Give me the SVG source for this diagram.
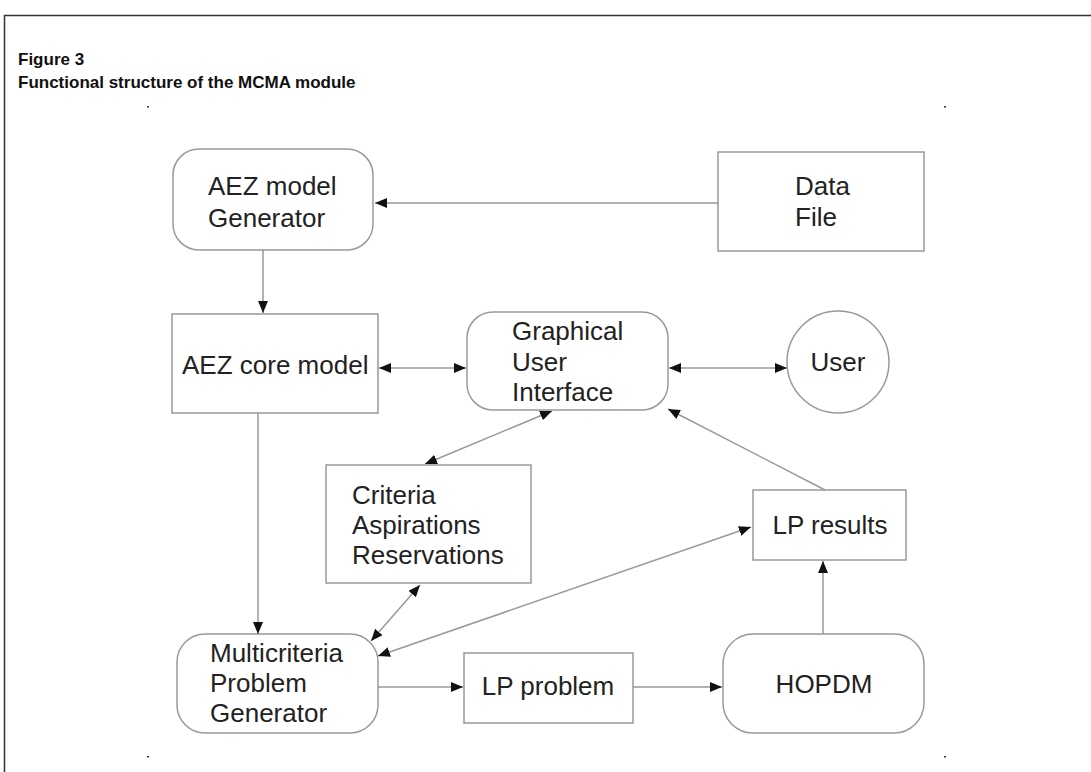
<svg xmlns="http://www.w3.org/2000/svg" width="1091" height="772" viewBox="0 0 1091 772">
<style>
.frame{fill:none;stroke:#333;stroke-width:1.5}
.title{font-family:"Liberation Sans",Arial,sans-serif;font-weight:bold;font-size:17px;fill:#111}
.box{fill:#fff;stroke:#999;stroke-width:1.5}
.lbl{font-family:"Liberation Sans",Arial,sans-serif;font-size:26px;fill:#222}
.c{text-anchor:middle}
.conn line{stroke:#999;stroke-width:1.5;fill:none}
.dot{fill:#333}
</style>
<defs>
<marker id="ah" viewBox="0 0 12 10" refX="12" refY="5" markerWidth="12" markerHeight="10" markerUnits="userSpaceOnUse" orient="auto-start-reverse">
<path d="M0,0 L12,5 L0,10 z" fill="#111"/>
</marker>
</defs>
<rect width="1091" height="772" fill="#fff"/>
<path class="frame" d="M4.5,772 V15.5 H1091"/>
<text class="title" x="18" y="65">Figure 3</text>
<text class="title" x="18" y="88">Functional structure of the MCMA module</text>
<rect class="dot" x="147" y="106" width="2" height="1.5"/>
<rect class="dot" x="944" y="106" width="2" height="1.5"/>
<rect class="dot" x="147" y="756" width="2" height="1.5"/>
<rect class="dot" x="944" y="756" width="2" height="1.5"/>

<g id="aez-gen">
<rect class="box" x="173" y="149" width="200" height="101" rx="26"/>
<text class="lbl" x="208" y="195">AEZ model</text>
<text class="lbl" x="208" y="227">Generator</text>
</g>
<g id="data-file">
<rect class="box" x="718" y="152" width="206" height="99"/>
<text class="lbl" x="795" y="195">Data</text>
<text class="lbl" x="795" y="226">File</text>
</g>
<g id="aez-core">
<rect class="box" x="172" y="314" width="206" height="99"/>
<text class="lbl" x="182" y="374">AEZ core model</text>
</g>
<g id="gui">
<rect class="box" x="467" y="312" width="201" height="98" rx="26"/>
<text class="lbl" x="512" y="340">Graphical</text>
<text class="lbl" x="512" y="371">User</text>
<text class="lbl" x="512" y="401">Interface</text>
</g>
<g id="user">
<circle class="box" cx="838" cy="362" r="51"/>
<text class="lbl c" x="838" y="371">User</text>
</g>
<g id="criteria">
<rect class="box" x="326" y="465" width="205" height="118"/>
<text class="lbl" x="352" y="504">Criteria</text>
<text class="lbl" x="352" y="534">Aspirations</text>
<text class="lbl" x="352" y="564">Reservations</text>
</g>
<g id="lp-results">
<rect class="box" x="753" y="490" width="153" height="70"/>
<text class="lbl c" x="830" y="534">LP results</text>
</g>
<g id="multicriteria">
<rect class="box" x="177" y="634" width="201" height="99" rx="28"/>
<text class="lbl" x="210" y="662">Multicriteria</text>
<text class="lbl" x="210" y="692">Problem</text>
<text class="lbl" x="210" y="722">Generator</text>
</g>
<g id="lp-problem">
<rect class="box" x="464" y="653" width="169" height="70"/>
<text class="lbl c" x="548" y="695">LP problem</text>
</g>
<g id="hopdm">
<rect class="box" x="723" y="634" width="201" height="99" rx="30"/>
<text class="lbl c" x="824" y="693">HOPDM</text>
</g>

<g id="connectors" class="conn">
<line x1="718" y1="203" x2="375" y2="203" marker-end="url(#ah)"/>
<line x1="263" y1="250" x2="263" y2="313" marker-end="url(#ah)"/>
<line x1="379" y1="368" x2="466" y2="368" marker-start="url(#ah)" marker-end="url(#ah)"/>
<line x1="669" y1="368" x2="787" y2="368" marker-start="url(#ah)" marker-end="url(#ah)"/>
<line x1="552" y1="411" x2="425" y2="464" marker-start="url(#ah)" marker-end="url(#ah)"/>
<line x1="825" y1="490" x2="668" y2="409" marker-end="url(#ah)"/>
<line x1="258" y1="413" x2="258" y2="634" marker-end="url(#ah)"/>
<line x1="420" y1="585" x2="371" y2="641" marker-start="url(#ah)" marker-end="url(#ah)"/>
<line x1="751" y1="527" x2="378" y2="656" marker-start="url(#ah)" marker-end="url(#ah)"/>
<line x1="378" y1="687" x2="463" y2="687" marker-end="url(#ah)"/>
<line x1="633" y1="687" x2="722" y2="687" marker-end="url(#ah)"/>
<line x1="823" y1="634" x2="823" y2="561" marker-end="url(#ah)"/>
</g>
</svg>
